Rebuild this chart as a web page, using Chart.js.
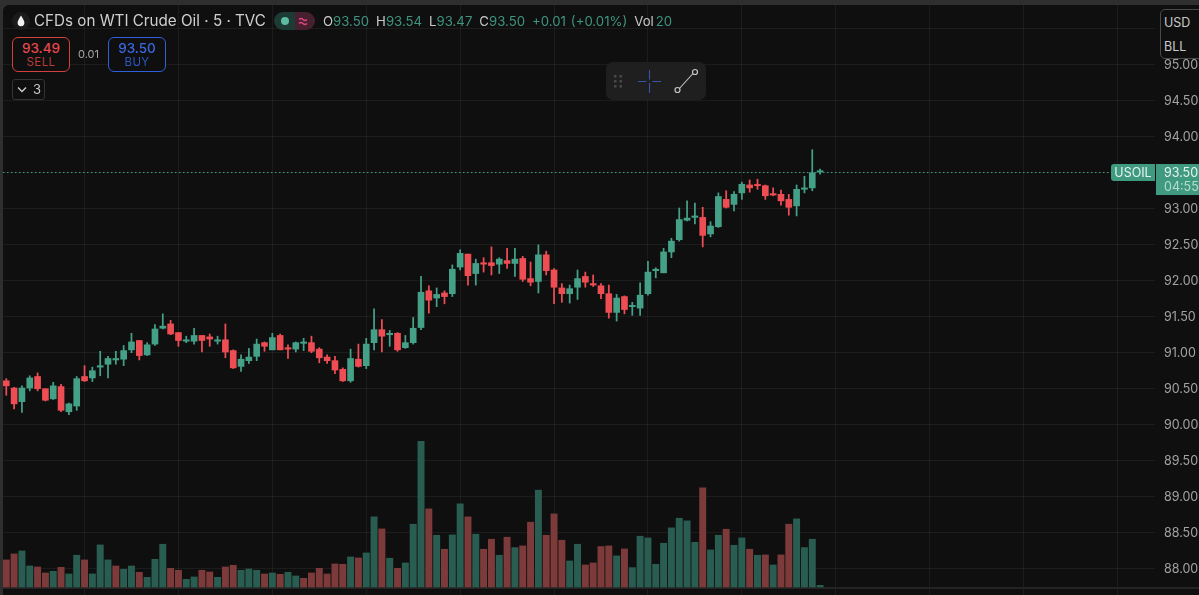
<!DOCTYPE html>
<html>
<head>
<meta charset="utf-8">
<title>USOIL</title>
<script src="https://cdn.jsdelivr.net/npm/chart.js@4"></script>
<style>
html,body{margin:0;padding:0;width:1199px;height:595px;overflow:hidden;background:#2f2f2f;font-family:Inter,"Noto Sans",sans-serif;}
#painel{position:absolute;left:3px;top:5px;width:1196px;height:590px;background:#0f0f0f;border-radius:6px 0 0 0;}
#grafico{position:absolute;left:0;top:0;}
.abs{position:absolute;white-space:nowrap;}
#titulo{left:34px;top:11px;font-size:15.2px;line-height:20px;color:#cfcfcf;}
#ohlc{left:323px;top:13px;font-size:13.2px;line-height:17px;color:#c9c9c9;}
#ohlc b{font-weight:400;color:#3f9580;}
#ohlc .l{margin-left:7px;}
.ordem{top:37px;width:56px;height:33px;border-radius:6px;border:1px solid;text-align:center;background:#0f0f0f;}
.ordem div:first-child{font-size:13.5px;font-weight:500;line-height:15px;margin-top:3px;}
.ordem div:last-child{font-size:11.5px;line-height:13px;letter-spacing:.4px;}
#spread{left:78px;top:48px;font-size:11px;line-height:13px;color:#a6a6a6;}
#colapso{left:12px;top:79px;width:31px;height:19px;border:1px solid #333;border-radius:3px;color:#c9c9c9;font-size:13px;line-height:19px;}
#moeda{left:1160px;top:9px;width:45px;height:48px;border:1px solid #4a4a4a;border-radius:5px;background:#0f0f0f;color:#c9c9c9;font-size:12.5px;}
#moeda span{position:absolute;left:3px;}
#barra{left:606px;top:62px;width:100px;height:38px;background:#1f1f1f;border-radius:7px;}
</style>
</head>
<body>
<div id="painel"></div>
<canvas id="grafico" width="1199" height="595"></canvas>

<svg class="abs" style="left:12px;top:12px" width="18" height="18">
<circle cx="9" cy="9" r="9" fill="#1b1b1b"/>
<path d="M9 3.5 C7 7 5.6 8.6 5.6 10.8 A3.4 3.4 0 0 0 12.4 10.8 C12.4 8.6 11 7 9 3.5Z" fill="#f2f2f2"/>
</svg>
<div class="abs" id="titulo">CFDs on WTI Crude Oil · 5 · TVC</div>
<svg class="abs" style="left:274px;top:12px" width="41" height="18">
<path d="M9 0H21V18H9A9 9 0 0 1 9 0Z" fill="#1e3a34"/>
<path d="M21 0H32A9 9 0 0 1 32 18H21Z" fill="#46202f"/>
<circle cx="11" cy="9" r="4" fill="#5dbba2"/>
<path d="M25 7.5q2-2 4 0t4 0M25 11.5q2-2 4 0t4 0" fill="none" stroke="#e0457b" stroke-width="1.4"/>
</svg>
<div class="abs" id="ohlc">O<b>93.50</b><span class="l">H</span><b>93.54</b><span class="l">L</span><b>93.47</b><span class="l">C</span><b>93.50</b><b class="l">+0.01</b><b style="margin-left:5px">(+0.01%)</b><span class="l">Vol</span><b style="margin-left:2px">20</b></div>

<div class="abs ordem" style="left:12px;border-color:#d2403f">
<div style="color:#e5484d">93.49</div><div style="color:#b83c3e">SELL</div>
</div>
<div class="abs" id="spread">0.01</div>
<div class="abs ordem" style="left:108px;border-color:#2f5fdd">
<div style="color:#3a66e0">93.50</div><div style="color:#2f57c4">BUY</div>
</div>
<div class="abs" id="colapso">
<svg class="abs" style="left:4px;top:6px" width="10" height="8"><path d="M1 1.5L5 5.5L9 1.5" fill="none" stroke="#d0d0d0" stroke-width="1.3"/></svg>
<span class="abs" style="left:20px">3</span>
</div>

<div class="abs" id="barra">
<svg width="100" height="38">
<g fill="#484848"><rect x="8" y="13" width="2.5" height="2.5"/><rect x="13.5" y="13" width="2.5" height="2.5"/><rect x="8" y="18" width="2.5" height="2.5"/><rect x="13.5" y="18" width="2.5" height="2.5"/><rect x="8" y="23" width="2.5" height="2.5"/><rect x="13.5" y="23" width="2.5" height="2.5"/></g>
<path d="M32 19.5H40.5M46.5 19.5H55M43.5 8V17.5M43.5 21V31" stroke="#3554b0" stroke-width="1.1" fill="none"/>
<path d="M72.5 27.5L87 11.5" stroke="#c8c8c8" stroke-width="1.1"/>
<circle cx="71.5" cy="28" r="2.5" fill="#1f1f1f" stroke="#c8c8c8" stroke-width="1.2"/>
<circle cx="89" cy="10" r="2.5" fill="#1f1f1f" stroke="#c8c8c8" stroke-width="1.2"/>
</svg>
</div>

<div class="abs" id="moeda"><span style="top:5px">USD</span><span style="top:29px">BLL</span></div>

<script>
const abertura = [
90.60,90.50,90.31,90.50,90.66,90.49,90.35,90.52,90.17,90.25,
90.66,90.64,90.79,90.83,90.89,90.90,91.03,91.16,90.96,91.11,
91.33,91.39,91.27,91.15,91.15,91.23,91.21,91.15,91.17,91.02,
90.80,90.88,90.94,91.13,91.03,91.23,91.06,91.04,91.12,91.13,
91.04,90.93,90.88,90.76,90.60,90.90,90.81,91.13,91.31,91.24,
91.26,91.06,91.13,91.34,91.85,91.75,91.82,91.81,92.18,92.36,
92.09,92.24,92.24,92.22,92.27,92.23,92.30,92.02,91.98,92.35,
92.14,91.89,91.81,91.90,92.05,91.95,91.92,91.81,91.55,91.77,
91.63,91.61,91.81,92.13,92.10,92.39,92.56,92.83,92.87,92.87,
92.64,92.74,93.12,93.05,93.21,93.32,93.32,93.31,93.20,93.19,
93.12,93.03,93.26,93.28,93.50
];

const maximas = [
90.63,90.51,90.53,90.67,90.71,90.49,90.58,90.55,90.29,90.66,
90.81,90.79,91.01,90.94,91.01,91.09,91.26,91.16,91.13,91.38,
91.53,91.44,91.27,91.22,91.33,91.23,91.25,91.22,91.39,91.03,
90.96,91.05,91.18,91.14,91.26,91.25,91.10,91.14,91.19,91.22,
91.06,90.96,90.94,90.78,91.04,91.11,91.19,91.60,91.45,91.30,
91.27,91.23,91.48,92.05,91.92,91.89,91.85,92.21,92.42,92.36,
92.29,92.31,92.46,92.31,92.44,92.44,92.33,92.25,92.49,92.40,
92.16,91.95,91.93,92.14,92.11,92.07,91.95,91.93,91.80,91.78,
91.69,91.96,92.26,92.17,92.44,92.58,93.00,93.10,93.07,93.01,
92.81,93.21,93.24,93.23,93.36,93.39,93.40,93.32,93.28,93.25,
93.19,93.32,93.44,93.81,93.54
];

const minimas = [
90.40,90.21,90.16,90.46,90.46,90.32,90.34,90.17,90.13,90.19,
90.59,90.59,90.67,90.64,90.83,90.81,90.99,90.89,90.95,91.09,
91.32,91.24,91.08,91.13,91.11,91.00,91.08,91.11,90.92,90.77,
90.73,90.84,90.88,91.01,91.03,91.03,90.91,91.00,91.02,90.99,
90.85,90.84,90.70,90.59,90.58,90.79,90.77,91.03,91.00,91.08,
91.01,91.05,91.11,91.31,91.54,91.63,91.67,91.77,92.14,91.93,
91.93,92.11,92.07,92.09,92.16,92.05,91.98,91.92,91.82,92.07,
91.67,91.69,91.68,91.73,91.90,91.91,91.74,91.47,91.43,91.53,
91.51,91.51,91.79,92.03,92.10,92.31,92.54,92.82,92.78,92.46,
92.60,92.73,93.00,92.96,93.12,93.22,93.26,93.12,93.17,93.04,
92.90,92.89,93.21,93.24,93.47
];

const fechamento = [
90.53,90.28,90.50,90.64,90.49,90.33,90.53,90.19,90.28,90.63,
90.60,90.74,90.81,90.91,90.91,91.02,91.14,90.95,91.10,91.32,
91.36,91.25,91.16,91.17,91.23,91.16,91.18,91.17,91.00,90.78,
90.90,90.93,91.11,91.08,91.20,91.03,91.04,91.13,91.14,91.01,
90.92,90.88,90.75,90.60,90.91,90.80,91.11,91.31,91.22,91.26,
91.03,91.13,91.33,91.83,91.72,91.80,91.77,92.15,92.37,92.06,
92.23,92.22,92.20,92.29,92.23,92.29,92.01,91.97,92.35,92.13,
91.90,91.81,91.88,92.02,91.97,91.93,91.81,91.55,91.75,91.59,
91.64,91.79,92.11,92.15,92.39,92.54,92.84,92.86,92.89,92.62,
92.75,93.16,93.01,93.19,93.33,93.28,93.31,93.17,93.18,93.10,
93.01,93.26,93.28,93.49,93.50
];

const volumes = [
324,396,432,252,240,168,188,236,156,380,
324,156,504,324,252,212,252,176,116,332,
512,224,200,92,120,200,180,116,240,260,
200,216,200,156,168,152,176,132,104,168,
224,156,276,272,360,348,408,840,696,344,
224,288,752,1744,936,620,452,624,996,840,
632,452,572,380,596,472,492,776,1160,620,
876,560,312,512,264,288,484,492,372,456,
232,608,588,272,524,708,824,792,536,1188,
444,620,692,500,588,452,380,384,264,384,
752,816,472,572,20
];

// doji bars whose volume column takes the opposite colour
const volumeInvertido = [14,36,38,96,98];

const ticksPreco = [88,88.5,89,89.5,90,90.5,91,91.5,92,92.5,93,93.5,94,94.5,95,95.5];
const ticksTempo = [10,22,34,46,58,70,82,94,106,118,130,142];

const ultimoPreco = 93.50;
const tagSimbolo = "USOIL";
const tagContagem = "04:55";

const VERDE = "#44a086";
const VERMELHO = "#ee4d53";
const VERDE_VOL = "#2a5d51";
const VERMELHO_VOL = "#7c3a3a";
const VERDE_TAG = "#3f9a80";


const indices = abertura.map((_,i)=>i);
const sobe = abertura.map((a,i)=>fechamento[i]>=a);
const coresCandle = sobe.map(s=>s?VERDE:VERMELHO);
const coresVolume = sobe.map((s,i)=>{
  const verde = volumeInvertido.includes(i) ? !s : s;
  return verde?VERDE_VOL:VERMELHO_VOL;
});


// time scale border, dotted last price line and the two tags on the price scale
const linhaPreco = {
  id:"linhaPreco",
  beforeDatasetsDraw(chart){
    const c = chart.ctx;
    const base = chart.scales.volume.getPixelForValue(0);
    c.fillStyle = "#242424";
    c.fillRect(chart.chartArea.left,base,1199,2);
  },
  afterDatasetsDraw(chart){
    const c = chart.ctx;
    const y = chart.scales.preco.getPixelForValue(ultimoPreco);
    const area = chart.chartArea;

    c.save();
    c.strokeStyle = VERDE_TAG;
    c.lineWidth = 1;
    c.setLineDash([1.5,2.5]);
    c.beginPath();
    c.moveTo(area.left,Math.round(y)+0.5);
    c.lineTo(1111,Math.round(y)+0.5);
    c.stroke();
    c.setLineDash([]);

    c.fillStyle = VERDE_TAG;
    c.beginPath();
    c.roundRect(1111,y-8,44,17,[3,0,0,3]);
    c.fill();
    c.fillRect(1156,y-8,43,31);

    c.font = "12.5px Inter";
    c.textBaseline = "middle";
    c.textAlign = "center";
    c.fillStyle = "#e8f3ef";
    c.fillText(tagSimbolo,1133,y+1);
    c.textAlign = "left";
    c.fillText(ultimoPreco.toFixed(2),1164,y+1);
    c.fillStyle = "#b7dccf";
    c.fillText(tagContagem,1164,y+15);
    c.restore();
  }
};


const ctx = document.getElementById("grafico");

let grafico = new Chart(ctx,{

type:"bar",

plugins:[linhaPreco],

data:{

labels:indices,

datasets:[

{
label:"Volume",
yAxisID:"volume",
order:3,
grouped:false,
barThickness:6.3,
data:indices.map(i=>({x:i,y:volumes[i]})),
backgroundColor:coresVolume
},

{
label:"Pavio",
yAxisID:"preco",
order:2,
grouped:false,
barThickness:1.1,
data:indices.map(i=>({x:i,y:[minimas[i],maximas[i]]})),
backgroundColor:coresCandle
},

{
label:"Corpo",
yAxisID:"preco",
order:1,
grouped:false,
barThickness:6,
minBarLength:1.3,
data:indices.map(i=>({x:i,y:[abertura[i],fechamento[i]]})),
backgroundColor:coresCandle
}

]

},

options:{

responsive:false,
animation:false,
events:[],

layout:{padding:{left:3,top:5,right:0,bottom:0}},

plugins:{legend:{display:false},tooltip:{enabled:false}},

scales:{

x:{
type:"linear",
position:"bottom",
offset:false,
min:-0.42,
max:146.8,
afterBuildTicks:s=>{s.ticks=ticksTempo.map(v=>({value:v}));},
afterFit:s=>{s.height=0;},
ticks:{display:false},
border:{display:false},
grid:{offset:false,color:"rgba(255,255,255,0.055)",drawTicks:false}
},

preco:{
type:"linear",
position:"right",
min:87.625,
max:95.82,
afterBuildTicks:s=>{s.ticks=ticksPreco.map(v=>({value:v}));},
afterFit:s=>{s.width=44;s.paddingTop=0;s.paddingBottom=0;},
border:{display:false},
grid:{color:"rgba(255,255,255,0.055)",drawTicks:false},
ticks:{
autoSkip:false,
padding:9,
labelOffset:1,
color:"#a3a3a3",
font:{family:"Inter",size:12.5},
callback:v=>v.toFixed(2)
}
},

volume:{
type:"linear",
position:"left",
min:-96,
max:6972,
afterBuildTicks:s=>{s.ticks=[{value:0}];},
afterFit:s=>{s.width=0;s.paddingTop=0;s.paddingBottom=0;},
ticks:{display:false},
border:{display:false},
grid:{display:false}
}

}

}

});
</script>
</body>
</html>
